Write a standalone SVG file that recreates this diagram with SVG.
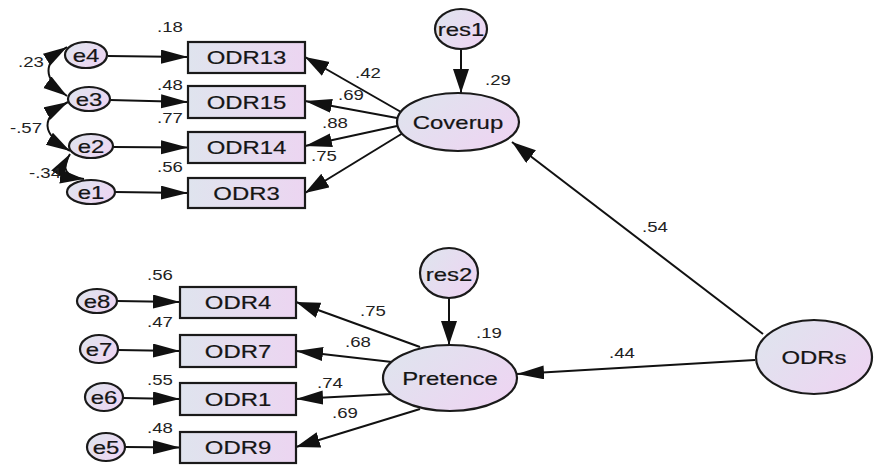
<svg xmlns="http://www.w3.org/2000/svg" width="874" height="465" viewBox="0 0 874 465">
<defs>
<linearGradient id="gBox" x1="0" y1="0" x2="1" y2="0">
<stop offset="0" stop-color="#dfe4ee"/>
<stop offset="1" stop-color="#ecd5f1"/>
</linearGradient>
<linearGradient id="gEll" x1="0" y1="0.2" x2="1" y2="0.8">
<stop offset="0" stop-color="#dfe4ee"/>
<stop offset="1" stop-color="#eed4f2"/>
</linearGradient>
<marker id="ah" markerUnits="userSpaceOnUse" markerWidth="28" markerHeight="16" refX="27" refY="7" orient="auto">
<path d="M0,0 L27,7 L0,14 z" fill="#111"/>
</marker>
<marker id="av" markerUnits="userSpaceOnUse" markerWidth="26" markerHeight="18" refX="24" refY="8" orient="auto">
<path d="M0,0 L24,8 L0,16 z" fill="#111"/>
</marker>
<marker id="ac" markerUnits="userSpaceOnUse" markerWidth="26" markerHeight="16" refX="24" refY="7" orient="auto-start-reverse">
<path d="M0,0 L24,7 L0,14 z" fill="#111"/>
</marker>
<style>
.box{fill:url(#gBox);stroke:#1a1a1a;stroke-width:2.2}
.ell{fill:url(#gEll);stroke:#1a1a1a;stroke-width:2.2}
.lbl{font-family:"Liberation Sans",Arial,sans-serif;font-size:18px;fill:#151515;stroke:#151515;stroke-width:0.2;text-anchor:middle}
.num{font-family:"Liberation Sans",Arial,sans-serif;font-size:14px;fill:#222;text-anchor:middle}
.ln{stroke:#111;stroke-width:2;fill:none}
</style>
</defs>
<rect width="874" height="465" fill="#fff"/>

<g id="connectors">
<line class="ln" x1="108" y1="56" x2="188" y2="57" marker-end="url(#ah)"/>
<line class="ln" x1="110" y1="100" x2="188" y2="102" marker-end="url(#ah)"/>
<line class="ln" x1="113" y1="147" x2="188" y2="147.5" marker-end="url(#ah)"/>
<line class="ln" x1="115" y1="192" x2="188" y2="193" marker-end="url(#ah)"/>
<path class="ln" d="M67,47 Q30,70 67,96" marker-start="url(#ac)" marker-end="url(#ac)"/>
<path class="ln" d="M68,102 Q26,125 70,151" marker-start="url(#ac)" marker-end="url(#ac)"/>
<path class="ln" d="M70,154 Q56,176 84,179" marker-start="url(#ac)" marker-end="url(#ac)"/>
<line class="ln" x1="401" y1="112" x2="305" y2="57" marker-end="url(#av)"/>
<line class="ln" x1="397" y1="118" x2="305" y2="101" marker-end="url(#ah)"/>
<line class="ln" x1="397" y1="126" x2="305" y2="146" marker-end="url(#ah)"/>
<line class="ln" x1="403" y1="133" x2="305" y2="193" marker-end="url(#av)"/>
<line class="ln" x1="461" y1="49" x2="461" y2="93" marker-end="url(#av)"/>
<line class="ln" x1="763" y1="334" x2="512" y2="142" marker-end="url(#av)"/>
<line class="ln" x1="755" y1="360" x2="517" y2="374" marker-end="url(#ah)"/>
<line class="ln" x1="449" y1="298" x2="449" y2="345" marker-end="url(#av)"/>
<line class="ln" x1="420" y1="347" x2="296" y2="302" marker-end="url(#av)"/>
<line class="ln" x1="392" y1="362" x2="296" y2="351" marker-end="url(#ah)"/>
<line class="ln" x1="392" y1="394" x2="296" y2="399" marker-end="url(#ah)"/>
<line class="ln" x1="420" y1="409" x2="296" y2="447" marker-end="url(#av)"/>
<line class="ln" x1="117" y1="301" x2="180" y2="302" marker-end="url(#ah)"/>
<line class="ln" x1="118" y1="350" x2="180" y2="351" marker-end="url(#ah)"/>
<line class="ln" x1="123" y1="398" x2="180" y2="399" marker-end="url(#ah)"/>
<line class="ln" x1="125" y1="447" x2="180" y2="447.5" marker-end="url(#ah)"/>
</g>

<g id="labels">
<text class="num" transform="translate(170,32) scale(1.33,1)">.18</text>
<text class="num" transform="translate(170,90) scale(1.33,1)">.48</text>
<text class="num" transform="translate(170,123) scale(1.33,1)">.77</text>
<text class="num" transform="translate(170,172) scale(1.33,1)">.56</text>
<text class="num" transform="translate(31,67) scale(1.33,1)">.23</text>
<text class="num" transform="translate(26,133) scale(1.33,1)">-.57</text>
<text class="num" transform="translate(45,178) scale(1.33,1)">-.34</text>
<text class="num" transform="translate(368,78) scale(1.33,1)">.42</text>
<text class="num" transform="translate(351,100) scale(1.33,1)">.69</text>
<text class="num" transform="translate(335,128) scale(1.33,1)">.88</text>
<text class="num" transform="translate(324,161) scale(1.33,1)">.75</text>
<text class="num" transform="translate(498,85) scale(1.33,1)">.29</text>
<text class="num" transform="translate(655,232) scale(1.33,1)">.54</text>
<text class="num" transform="translate(622,358) scale(1.33,1)">.44</text>
<text class="num" transform="translate(489,338) scale(1.33,1)">.19</text>
<text class="num" transform="translate(373,316) scale(1.33,1)">.75</text>
<text class="num" transform="translate(358,347) scale(1.33,1)">.68</text>
<text class="num" transform="translate(330,388) scale(1.33,1)">.74</text>
<text class="num" transform="translate(345,418) scale(1.33,1)">.69</text>
<text class="num" transform="translate(160,280) scale(1.33,1)">.56</text>
<text class="num" transform="translate(160,327) scale(1.33,1)">.47</text>
<text class="num" transform="translate(160,385) scale(1.33,1)">.55</text>
<text class="num" transform="translate(160,433) scale(1.33,1)">.48</text>
</g>

<g id="e4"><ellipse class="ell" cx="86" cy="55" rx="21" ry="13"/><text class="lbl" transform="translate(86,61.5) scale(1.33,1)">e4</text></g>
<g id="e3"><ellipse class="ell" cx="89" cy="99" rx="21" ry="12"/><text class="lbl" transform="translate(89,105.5) scale(1.33,1)">e3</text></g>
<g id="e2"><ellipse class="ell" cx="91" cy="146" rx="22" ry="12"/><text class="lbl" transform="translate(91,152.5) scale(1.33,1)">e2</text></g>
<g id="e1"><ellipse class="ell" cx="91" cy="192" rx="24" ry="12"/><text class="lbl" transform="translate(91,199) scale(1.33,1)">e1</text></g>

<g id="ODR13"><rect class="box" x="188" y="42" width="117" height="31"/><text class="lbl" transform="translate(246.5,64) scale(1.33,1)">ODR13</text></g>
<g id="ODR15"><rect class="box" x="188" y="86" width="117" height="32"/><text class="lbl" transform="translate(246.5,108.5) scale(1.33,1)">ODR15</text></g>
<g id="ODR14"><rect class="box" x="188" y="132" width="117" height="31"/><text class="lbl" transform="translate(246.5,154) scale(1.33,1)">ODR14</text></g>
<g id="ODR3"><rect class="box" x="188" y="178" width="117" height="30"/><text class="lbl" transform="translate(246.5,200) scale(1.33,1)">ODR3</text></g>

<g id="res1"><ellipse class="ell" cx="461" cy="29" rx="26" ry="20"/><text class="lbl" transform="translate(461,36) scale(1.33,1)">res1</text></g>
<g id="Coverup"><ellipse class="ell" cx="458" cy="122" rx="61" ry="29"/><text class="lbl" transform="translate(458,129) scale(1.33,1)">Coverup</text></g>

<g id="e8"><ellipse class="ell" cx="97" cy="301" rx="20" ry="12"/><text class="lbl" transform="translate(97,307.5) scale(1.33,1)">e8</text></g>
<g id="e7"><ellipse class="ell" cx="99" cy="349" rx="19" ry="14"/><text class="lbl" transform="translate(99,355.5) scale(1.33,1)">e7</text></g>
<g id="e6"><ellipse class="ell" cx="104" cy="397" rx="19" ry="14"/><text class="lbl" transform="translate(104,403.5) scale(1.33,1)">e6</text></g>
<g id="e5"><ellipse class="ell" cx="106" cy="447" rx="19" ry="14"/><text class="lbl" transform="translate(106,453.5) scale(1.33,1)">e5</text></g>

<g id="ODR4"><rect class="box" x="180" y="287" width="116" height="31"/><text class="lbl" transform="translate(238,309) scale(1.33,1)">ODR4</text></g>
<g id="ODR7"><rect class="box" x="180" y="335" width="116" height="32"/><text class="lbl" transform="translate(238,357.5) scale(1.33,1)">ODR7</text></g>
<g id="ODR1"><rect class="box" x="180" y="383" width="116" height="32"/><text class="lbl" transform="translate(238,405.5) scale(1.33,1)">ODR1</text></g>
<g id="ODR9"><rect class="box" x="180" y="432" width="116" height="31"/><text class="lbl" transform="translate(238,454) scale(1.33,1)">ODR9</text></g>

<g id="res2"><ellipse class="ell" cx="449" cy="273" rx="29" ry="25"/><text class="lbl" transform="translate(449,280.5) scale(1.33,1)">res2</text></g>
<g id="Pretence"><ellipse class="ell" cx="450" cy="378" rx="67" ry="33"/><text class="lbl" transform="translate(450,384.5) scale(1.33,1)">Pretence</text></g>
<g id="ODRs"><ellipse class="ell" cx="814" cy="357" rx="58" ry="37"/><text class="lbl" transform="translate(814,363.5) scale(1.33,1)">ODRs</text></g>
</svg>
